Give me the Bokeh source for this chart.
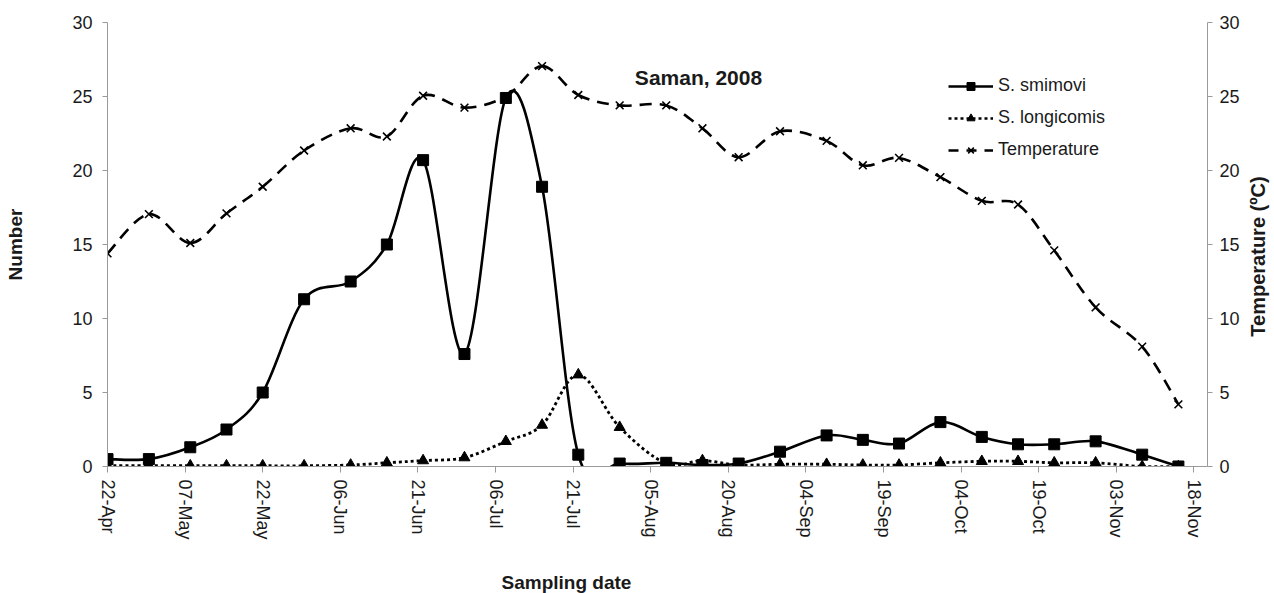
import math
from datetime import datetime
from bokeh.plotting import figure
from bokeh.models import (Range1d, LinearAxis, FixedTicker, DatetimeTickFormatter,
                          Legend, LegendItem, Label, ColumnDataSource)
from bokeh.embed import file_html
from bokeh.resources import INLINE

# ---------------- data ----------------
dates = ["2008-04-22", "2008-04-30", "2008-05-08", "2008-05-15", "2008-05-22", "2008-05-30",
         "2008-06-08", "2008-06-15", "2008-06-22", "2008-06-30", "2008-07-08", "2008-07-15",
         "2008-07-22", "2008-07-30", "2008-08-08", "2008-08-15", "2008-08-22", "2008-08-30",
         "2008-09-08", "2008-09-15", "2008-09-22", "2008-09-30", "2008-10-08", "2008-10-15",
         "2008-10-22", "2008-10-30", "2008-11-08", "2008-11-15"]
smirnovi = [0.5, 0.5, 1.3, 2.5, 5.0, 11.3, 12.5, 15.0, 20.7, 7.6, 24.9, 18.9,
            0.8, 0.2, 0.25, 0.1, 0.2, 1.0, 2.1, 1.8, 1.55, 3.0, 2.0, 1.5,
            1.5, 1.7, 0.8, 0.0]
longicornis = [0.05, 0.05, 0.05, 0.05, 0.05, 0.05, 0.1, 0.25, 0.4, 0.6, 1.7, 2.8,
               6.2, 2.65, 0.2, 0.4, 0.1, 0.15, 0.15, 0.1, 0.1, 0.25, 0.35, 0.35,
               0.25, 0.25, 0.0, 0.0]
temperature = [14.4, 17.05, 15.1, 17.1, 18.9, 21.35, 22.85, 22.3, 25.05, 24.25, 25.0, 27.05,
               25.1, 24.4, 24.4, 22.85, 20.9, 22.65, 22.0, 20.35, 20.85, 19.55, 17.95, 17.7,
               14.6, 10.75, 8.1, 4.2]
tick_dates = ["2008-04-22", "2008-05-07", "2008-05-22", "2008-06-06", "2008-06-21",
              "2008-07-06", "2008-07-21", "2008-08-05", "2008-08-20", "2008-09-04",
              "2008-09-19", "2008-10-04", "2008-10-19", "2008-11-03", "2008-11-18"]
y_ticks = [0, 5, 10, 15, 20, 25, 30]
names = ["S. smimovi", "S. longicomis", "Temperature"]
title_text = "Saman, 2008"
x_label = "Sampling date"
y_label = "Number"
y2_label = "Temperature (ºC)"

FONT = "Liberation Sans"
EPOCH = datetime(1970, 1, 1)


def ms(d):
    return (d - EPOCH).total_seconds() * 1000.0


xs = [ms(datetime.strptime(d, "%Y-%m-%d")) for d in dates]
ticks = [ms(datetime.strptime(d, "%Y-%m-%d")) for d in tick_dates]
x_start = ms(datetime(2008, 4, 22))
x_end = ms(datetime(2008, 11, 20, 15))


def smooth_source(x, y):
    n = len(x)
    d = dict(x0=[], y0=[], x1=[], y1=[], cx0=[], cy0=[], cx1=[], cy1=[])
    for i in range(n - 1):
        a = i - 1 if i > 0 else i
        b = i + 2 if i + 2 < n else i + 1
        d["x0"].append(x[i]); d["y0"].append(y[i])
        d["x1"].append(x[i + 1]); d["y1"].append(y[i + 1])
        d["cx0"].append(x[i] + (x[i + 1] - x[a]) / 6.0)
        d["cy0"].append(y[i] + (y[i + 1] - y[a]) / 6.0)
        d["cx1"].append(x[i + 1] - (x[b] - x[i]) / 6.0)
        d["cy1"].append(y[i + 1] - (y[b] - y[i]) / 6.0)
    return ColumnDataSource(d)


p = figure(width=1274, height=593, x_axis_type="datetime",
           x_range=Range1d(x_start, x_end), y_range=Range1d(0, 30),
           output_backend="svg", toolbar_location=None,
           min_border_left=107, min_border_right=67, min_border_top=22, min_border_bottom=127)
p.extra_y_ranges = {"temp": Range1d(0, 30)}
p.outline_line_color = None
p.xgrid.visible = False
p.ygrid.visible = False
p.background_fill_color = "white"
p.border_fill_color = "white"

AX = "#9a9a9a"
TXT = "#1a1a1a"


def style_ticks(ax, tick_out, standoff):
    ax.minor_tick_line_color = None
    ax.axis_line_color = AX
    ax.major_tick_line_color = AX
    ax.major_tick_out = tick_out
    ax.major_tick_in = 0
    ax.major_label_standoff = standoff
    ax.major_label_text_font = FONT
    ax.major_label_text_font_size = "18px"
    ax.major_label_text_color = TXT


# x axis
xa = p.xaxis[0]
xa.ticker = FixedTicker(ticks=ticks)
xa.formatter = DatetimeTickFormatter(days="%d-%b", months="%d-%b", hours="%d-%b",
                                     years="%d-%b", minutes="%d-%b")
xa.major_label_orientation = -math.pi / 2
style_ticks(xa, 6, 7)

# left axis
ya = p.yaxis[0]
ya.ticker = FixedTicker(ticks=y_ticks)
style_ticks(ya, 5, 10)
ya.axis_label = y_label
ya.axis_label_text_font = FONT
ya.axis_label_text_font_style = "bold"
ya.axis_label_text_font_size = "19px"
ya.axis_label_text_color = TXT
ya.axis_label_standoff = 43

# right axis
ra = LinearAxis(y_range_name="temp", ticker=FixedTicker(ticks=y_ticks))
style_ticks(ra, 5, 7)
p.add_layout(ra, "right")

# axis titles placed in side panels (screen units relative to their panel)
p.add_layout(Label(x=459, y=-19, x_units="screen", y_units="screen", text=x_label,
                   text_align="center", text_baseline="middle", text_font=FONT,
                   text_font_style="bold", text_font_size="19px", text_color=TXT), "below")
p.add_layout(Label(x=15, y=210, x_units="screen", y_units="screen", text=y2_label,
                   angle=math.pi / 2, text_align="center", text_baseline="middle",
                   text_font=FONT, text_font_style="bold", text_font_size="20px",
                   text_color=TXT), "right")

# --------------- series ---------------
s1 = smooth_source(xs, smirnovi)
s2 = smooth_source(xs, longicornis)
s3 = smooth_source(xs, temperature)

bz = dict(x0="x0", y0="y0", x1="x1", y1="y1", cx0="cx0", cy0="cy0", cx1="cx1", cy1="cy1")
p.bezier(source=s3, line_color="black", line_width=2.6, line_dash="12 8",
         y_range_name="temp", **bz)
p.bezier(source=s2, line_color="black", line_width=2.8, line_dash="3 3", **bz)
p.bezier(source=s1, line_color="black", line_width=2.6, **bz)

m3 = p.scatter(xs, temperature, marker="x", size=11, line_color="black", line_width=1.6,
               y_range_name="temp")
m2 = p.scatter(xs, longicornis, marker="triangle", size=11, fill_color="black",
               line_color="black")
m1 = p.scatter(xs, smirnovi, marker="square", size=11, fill_color="black", line_color="black")

# legend proxies for the line styles (draw nothing on the plot)
nan = float("nan")
l1 = p.line(xs, [nan] * len(xs), line_color="black", line_width=2.6)
l2 = p.line(xs, [nan] * len(xs), line_color="black", line_width=2.4, line_dash="3 3")
l3 = p.line(xs, [nan] * len(xs), line_color="black", line_width=2.6, line_dash="10 8")

legend = Legend(items=[LegendItem(label=names[0], renderers=[l1, m1]),
                       LegendItem(label=names[1], renderers=[l2, m2]),
                       LegendItem(label=names[2], renderers=[l3, m3])],
                location=(841, 306), border_line_color=None, background_fill_alpha=0,
                glyph_width=45, glyph_height=20, label_height=20, label_standoff=5,
                spacing=11, padding=0, margin=0,
                label_text_font=FONT, label_text_font_size="18px", label_text_color=TXT)
p.add_layout(legend)

# title inside the plot area
p.add_layout(Label(x=591, y=389, x_units="screen", y_units="screen", text=title_text,
                   text_align="center", text_baseline="middle", text_font=FONT,
                   text_font_style="bold", text_font_size="21px", text_color=TXT))

open("out.html", "w").write(file_html(p, INLINE))
